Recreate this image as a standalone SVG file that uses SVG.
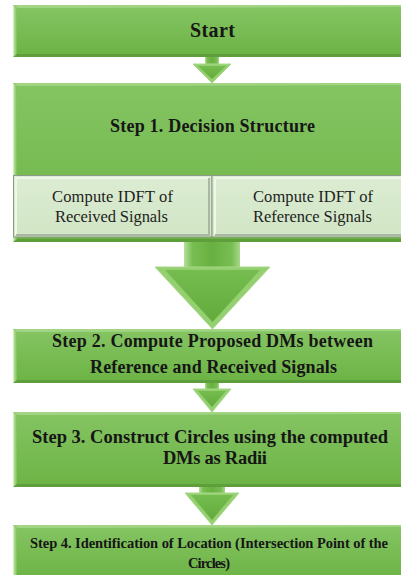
<svg xmlns="http://www.w3.org/2000/svg" width="401" height="575" viewBox="0 0 401 575">
  <defs>
    <linearGradient id="face" x1="0" y1="0" x2="0" y2="1">
      <stop offset="0" stop-color="#84c462"/>
      <stop offset="1" stop-color="#6db446"/>
    </linearGradient>
    <linearGradient id="bevelL" x1="0" y1="0" x2="1" y2="0">
      <stop offset="0" stop-color="#e4f6d2"/>
      <stop offset="0.4" stop-color="#a9d98a"/>
      <stop offset="1" stop-color="#7cc056"/>
    </linearGradient>
    <linearGradient id="pale" x1="0" y1="0" x2="0" y2="1">
      <stop offset="0" stop-color="#dcecd3"/>
      <stop offset="1" stop-color="#d1e6c5"/>
    </linearGradient>
    <linearGradient id="arrowFill" x1="0" y1="0" x2="0" y2="1">
      <stop offset="0" stop-color="#76bd50"/>
      <stop offset="1" stop-color="#62aa3c"/>
    </linearGradient>
    <linearGradient id="stemFill" x1="0" y1="0" x2="1" y2="0">
      <stop offset="0" stop-color="#b6e09a"/>
      <stop offset="0.15" stop-color="#78bd52"/>
      <stop offset="0.5" stop-color="#68b040"/>
      <stop offset="0.85" stop-color="#78bd52"/>
      <stop offset="1" stop-color="#a6d888"/>
    </linearGradient>
  </defs>
  <style>
    .edge { fill: #5f9f3b; }
    .face { fill: url(#face); }
    .lbev { fill: url(#bevelL); }
    .tbev { fill: #a2d583; }
    .sub { fill: url(#pale); stroke: #8c9a86; stroke-width: 1; }
    .subhi { fill: none; stroke: #eef7e8; stroke-width: 2; }
    .subsh { fill: none; stroke: #a9b8a2; stroke-width: 2; }
    .head { fill: #94cf70; stroke: #a8d98a; stroke-width: 1; stroke-linejoin: miter; }
    .core { fill: url(#arrowFill); }
    .stem { fill: url(#stemFill); }
    .title { font-family: "Liberation Serif", "DejaVu Serif", serif; font-weight: bold; fill: #161616; text-anchor: middle; }
    .plain { font-family: "Liberation Serif", "DejaVu Serif", serif; fill: #1e1e1e; text-anchor: middle; }
  </style>

  <!-- connectors: bevelled block arrows between steps -->
  <g id="connectors">
    <g id="arrow-start-step1">
      <rect class="stem" x="205" y="56" width="14" height="9"/>
      <polygon class="head" points="193,64 231,64 212,83"/>
      <polygon class="core" points="198,66 226,66 212,79"/>
    </g>
    <g id="arrow-step1-step2">
      <rect class="stem" x="184" y="241" width="56" height="27"/>
      <polygon class="head" points="155,267 270,267 212.5,329"/>
      <polygon class="core" points="165,270 260,270 212.5,322"/>
    </g>
    <g id="arrow-step2-step3">
      <rect class="stem" x="205" y="382" width="14" height="8"/>
      <polygon class="head" points="193,389 231,389 212,412"/>
      <polygon class="core" points="198,391 226,391 212,407"/>
    </g>
    <g id="arrow-step3-step4">
      <rect class="stem" x="199" y="486" width="26" height="8"/>
      <polygon class="head" points="185,493 239,493 212,525"/>
      <polygon class="core" points="191,495 233,495 212,520"/>
    </g>
  </g>

  <!-- Start -->
  <g id="start">
    <rect class="edge" x="13" y="5" width="398" height="52"/>
    <rect class="face" x="17" y="7" width="394" height="47"/>
    <polygon class="lbev" points="13,5 17,8 17,54 13,57"/>
    <polygon class="tbev" points="13,5 411,5 411,7 17,8"/>
    <text class="title" x="212.5" y="37" font-size="20" textLength="45">Start</text>
  </g>

  <!-- Step 1 with its two sub-tasks -->
  <g id="step1">
    <rect class="edge" x="13" y="83" width="398" height="159"/>
    <rect class="face" x="17" y="85" width="394" height="154"/>
    <polygon class="lbev" points="13,83 17,86 17,239 13,242"/>
    <polygon class="tbev" points="13,83 411,83 411,85 17,86"/>
    <text class="title" x="212.5" y="132" font-size="18" textLength="205">Step 1. Decision Structure</text>
  </g>
  <g id="idft-received">
    <rect class="sub" x="13.5" y="175.5" width="198.5" height="61.5"/>
    <polyline class="subhi" points="16,235 16,178 209,178"/>
    <polyline class="subsh" points="209,178 209,235 16,235"/>
    <text class="plain" x="112.5" y="202" font-size="16.5" textLength="121">Compute IDFT of</text>
    <text class="plain" x="111.5" y="222" font-size="16.5" textLength="113">Received Signals</text>
  </g>
  <g id="idft-reference">
    <rect class="sub" x="212" y="175.5" width="199" height="61.5"/>
    <polyline class="subhi" points="215,235 215,178 411,178"/>
    <polyline class="subsh" points="215,235 411,235"/>
    <text class="plain" x="313" y="202" font-size="16.5" textLength="120">Compute IDFT of</text>
    <text class="plain" x="312.5" y="222" font-size="16.5" textLength="119">Reference Signals</text>
  </g>

  <!-- Step 2 -->
  <g id="step2">
    <rect class="edge" x="13" y="329" width="398" height="54"/>
    <rect class="face" x="17" y="331" width="394" height="49"/>
    <polygon class="lbev" points="13,329 17,332 17,380 13,383"/>
    <polygon class="tbev" points="13,329 411,329 411,331 17,332"/>
    <text class="title" x="212.5" y="347" font-size="18" textLength="321">Step 2. Compute Proposed DMs between</text>
    <text class="title" x="213.5" y="373" font-size="18" textLength="247">Reference and Received Signals</text>
  </g>

  <!-- Step 3 -->
  <g id="step3">
    <rect class="edge" x="13" y="412" width="398" height="75"/>
    <rect class="face" x="17" y="414" width="394" height="70"/>
    <polygon class="lbev" points="13,412 17,415 17,484 13,487"/>
    <polygon class="tbev" points="13,412 411,412 411,414 17,415"/>
    <text class="title" x="210" y="443" font-size="18.5" textLength="356">Step 3. Construct Circles using the computed</text>
    <text class="title" x="215" y="464" font-size="18.5" textLength="104">DMs as Radii</text>
  </g>

  <!-- Step 4 -->
  <g id="step4">
    <rect class="edge" x="13" y="525" width="398" height="55"/>
    <rect class="face" x="17" y="527" width="394" height="50"/>
    <polygon class="lbev" points="13,525 17,528 17,580 13,580"/>
    <polygon class="tbev" points="13,525 411,525 411,527 17,528"/>
    <text class="title" x="209" y="548" font-size="14.5" textLength="358">Step 4. Identification of Location (Intersection Point of the</text>
    <text class="title" x="209" y="568" font-size="14.5" textLength="42">Circles)</text>
  </g>
</svg>
